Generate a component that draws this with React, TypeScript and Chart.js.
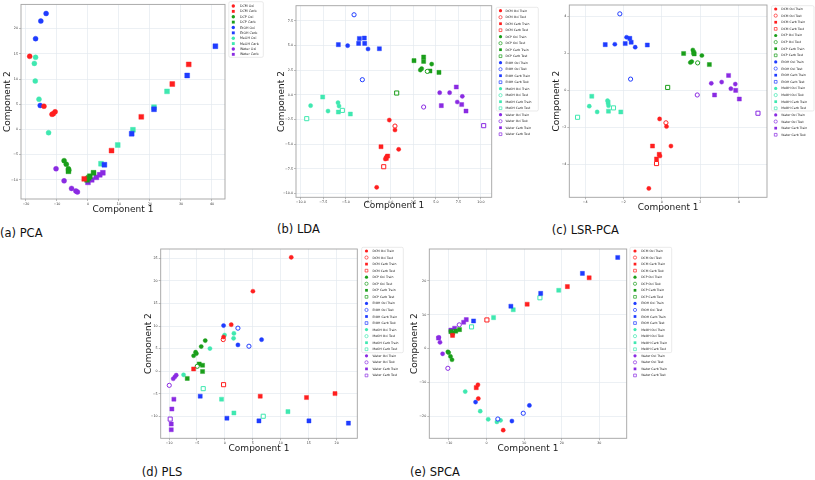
import React, { useEffect, useRef } from 'react';
import { Chart, registerables } from 'chart.js';
Chart.register(...registerables);

const FONT = '"DejaVu Sans", sans-serif';
const RED = '#ff1f1f';
const GREEN = '#1a9e1a';
const BLUE = '#1f3cff';
const AQUA = '#3fe8b0';
const PURPLE = '#8a2be2';

// ---------- (a) PCA ----------
const pcaDcmOxi = [[-18.8, 14.5], [-14.2, 4.6], [-10.6, 3.5], [-11.2, 3.1], [-11.6, 3.0]];
const pcaDcmCarb = [[32.5, 12.9], [27.2, 9.0], [17.2, 2.5], [7.6, -4.2], [-1.2, -9.8]];
const pcaDcpOxi = [[-7.7, -6.2], [-7.0, -6.9], [-6.3, -7.8], [-6.2, -8.1], [-0.4, -9.8]];
const pcaDcpCarb = [[0.6, -9.3], [1.8, -8.6], [-0.3, -10.0], [-6.3, -8.3], [0.2, -9.6]];
const pcaEtohOxi = [[-13.5, 23.0], [-15.2, 21.5], [-16.9, 18.0], [-15.4, 4.75]];
const pcaEtohCarb = [[41.1, 16.5], [32.0, 10.7], [21.3, 4.0], [14.1, -0.85], [5.3, -7.0]];
const pcaMeohOxi = [[-16.9, 14.3], [-17.3, 13.1], [-17.0, 9.6], [-15.8, 6.0], [-12.7, -0.65]];
const pcaMeohCarb = [[25.5, 7.55], [21.3, 4.4], [14.5, -0.07], [9.6, -3.1], [4.2, -6.8]];
const pcaWaterOxi = [[-10.3, -7.8], [-7.7, -10.2], [-5.3, -11.7], [-3.9, -12.2], [-3.4, -12.4]];
const pcaWaterCarb = [[0.0, -10.5], [1.2, -10.0], [2.7, -9.5], [3.8, -9.0], [4.8, -8.6]];
const pcaXTicks = [-20, -10, 0, 10, 20, 30, 40];
const pcaYTicks = [-10, -5, 0, 5, 10, 15, 20];

// ---------- (b) LDA ----------
const ldaDcmOxiTrain = [[-0.17, -2.57], [0.46, -3.58], [0.87, -5.54], [-0.46, -6.28], [-0.61, -6.52], [-1.57, -9.39]];
const ldaDcmOxiTest = [[0.46, -3.18]];
const ldaDcmCarbTrain = [[-1.09, -5.27], [-0.35, -6.22], [-0.5, -6.45]];
const ldaDcmCarbTest = [[-0.79, -7.3]];
const ldaDcpOxiTrain = [[3.27, 2.5], [3.42, 2.64], [4.53, 3.1]];
const ldaDcpOxiTest = [[4.05, 2.36]];
const ldaDcpCarbTrain = [[2.57, 3.45], [3.64, 3.82], [3.64, 3.38], [4.34, 2.4], [5.34, 2.26]];
const ldaDcpCarbTest = [[0.65, 0.17]];
const ldaEtohOxiTrain = [[-4.79, 4.97], [-2.53, 4.63]];
const ldaEtohOxiTest = [[-4.08, 8.1], [-3.16, 1.52]];
const ldaEtohCarbTrain = [[-5.82, 5.07], [-3.57, 5.2], [-3.49, 5.7], [-2.94, 5.74], [-2.9, 5.2], [-1.27, 4.66]];
const ldaEtohCarbTest: number[][] = [];
const ldaMeohOxiTrain = [[-8.9, -1.11], [-6.97, -1.66], [-5.86, -0.81], [-5.75, -1.15]];
const ldaMeohOxiTest: number[][] = [];
const ldaMeohCarbTrain = [[-7.56, -0.24], [-5.82, -1.76], [-4.49, -1.96]];
const ldaMeohCarbTest = [[-9.33, -2.43], [-5.38, -1.59]];
const ldaWaterOxiTrain = [[5.42, 0.2], [6.52, 0.2], [7.93, -0.17], [7.37, -0.74]];
const ldaWaterOxiTest = [[3.64, -1.25]];
const ldaWaterCarbTrain = [[7.26, 0.78], [5.6, -1.11], [7.86, -1.0], [8.34, -1.66]];
const ldaWaterCarbTest = [[10.3, -3.14]];
const ldaXTicks = [-10, -7.5, -5, -2.5, 0, 2.5, 5, 7.5, 10];
const ldaYTicks = [-10, -7.5, -5, -2.5, 0, 2.5, 5, 7.5];

// ---------- (c) LSR-PCA ----------
const lsrDcmOxiTrain = [[-0.12, -1.55], [0.24, -1.96], [0.47, -3.02], [-0.1, -3.56], [-0.68, -5.32]];
const lsrDcmOxiTest = [[0.21, -1.76]];
const lsrDcmCarbTrain = [[-0.49, -3.02], [-0.14, -3.47], [-0.28, -3.72]];
const lsrDcmCarbTest = [[-0.28, -3.97]];
const lsrDcpOxiTrain = [[1.61, 2.19], [1.48, 1.51], [1.55, 1.56], [2.08, 1.89]];
const lsrDcpOxiTest = [[1.86, 1.49]];
const lsrDcpCarbTrain = [[1.13, 2.0], [1.65, 2.05], [1.68, 1.98], [2.47, 1.4]];
const lsrDcpCarbTest = [[0.3, 0.16]];
const lsrEtohOxiTrain = [[-1.84, 2.88], [-2.45, 2.5], [-1.39, 2.34]];
const lsrEtohOxiTest = [[-2.19, 4.15], [-1.63, 0.61]];
const lsrEtohCarbTrain = [[-2.95, 2.48], [-1.91, 2.54], [-1.67, 2.82], [-1.6, 2.61], [-0.76, 2.46]];
const lsrEtohCarbTest: number[][] = [];
const lsrMeohOxiTrain = [[-3.78, -0.86], [-3.37, -1.17], [-2.83, -0.56], [-2.78, -0.83]];
const lsrMeohOxiTest: number[][] = [];
const lsrMeohCarbTrain = [[-3.65, -0.32], [-2.78, -1.13], [-2.14, -1.17], [-2.8, -0.65]];
const lsrMeohCarbTest = [[-4.39, -1.46], [-2.52, -0.95]];
const lsrWaterOxiTrain = [[2.57, 0.38], [3.11, 0.45], [3.82, 0.34], [3.59, 0.09]];
const lsrWaterOxiTest = [[1.84, -0.25]];
const lsrWaterCarbTrain = [[3.47, 0.81], [2.74, -0.25], [3.84, 0.0], [4.03, -0.47]];
const lsrWaterCarbTest = [[5.0, -1.24]];
const lsrXTicks = [-4, -2, 0, 2, 4];
const lsrYTicks = [-4, -2, 0, 2, 4];

// ---------- (d) PLS ----------
const plsDcmOxiTrain = [[11.87, 25.2], [5.01, 17.7], [1.13, 10.3], [-0.24, 7.57]];
const plsDcmOxiTest = [[-0.3, 7.0]];
const plsDcmCarbTrain = [[-5.6, 0.5], [6.32, -5.53], [14.6, -5.82], [19.7, -4.95]];
const plsDcmCarbTest = [[-0.24, -2.98]];
const plsDcpOxiTrain = [[-3.52, 6.77], [-4.24, 5.46], [-5.25, 4.22], [-5.6, 3.42], [-5.1, 3.9]];
const plsDcpOxiTest = [[-4.95, 1.09]];
const plsDcpCarbTrain = [[-4.6, 1.6], [-4.0, 1.31], [-4.0, -0.07], [-6.74, -1.6]];
const plsDcpCarbTest: number[][] = [];
const plsEtohOxiTrain = [[-0.24, 10.1], [2.33, 5.82], [6.56, 6.99]];
const plsEtohOxiTest = [[2.33, 9.53], [4.3, 5.53]];
const plsEtohCarbTrain = [[-4.42, -5.53], [0.36, -10.4], [6.09, -11.0], [15.04, -11.0], [22.1, -11.5]];
const plsEtohCarbTest: number[][] = [];
const plsMeohOxiTrain = [[1.61, 8.37], [1.55, 7.28], [-0.06, 8.0], [-2.68, 5.02], [-7.4, -0.8]];
const plsMeohOxiTest: number[][] = [];
const plsMeohCarbTrain = [[-0.6, -6.19], [1.61, -9.24], [11.28, -8.95]];
const plsMeohCarbTest = [[-3.88, -3.86], [6.86, -9.97]];
const plsWaterOxiTrain = [[-8.71, -0.87], [-8.95, -1.25], [-9.25, -1.67]];
const plsWaterOxiTest = [[-9.96, -3.13]];
const plsWaterCarbTrain = [[-9.13, -6.19], [-9.49, -8.37], [-9.6, -11.7], [-9.6, -12.95]];
const plsWaterCarbTest = [[-9.79, -10.6]];
const plsXTicks = [-10, -5, 0, 5, 10, 15, 20];
const plsYTicks = [-10, -5, 0, 5, 10, 15, 20, 25];

// ---------- (e) SPCA ----------
const spcaDcmOxiTrain = [[-2.2, -14.76], [4.43, -24.1], [-2.3, -10.7]];
const spcaDcmOxiTest: number[][] = [];
const spcaDcmCarbTrain = [[10.8, 13.1], [21.5, 18.3], [27.3, 20.9], [-9.05, 3.9], [-2.75, -11.55]];
const spcaDcmCarbTest = [[0.09, 8.45]];
const spcaDcpOxiTrain = [[-10.3, -0.97], [-9.6, -2.33], [-9.2, -3.3], [-10.1, -1.2]];
const spcaDcpOxiTest: number[][] = [];
const spcaDcpCarbTrain = [[-9.05, 4.56], [-8.2, 5.15], [-7.2, 5.6], [-9.5, 5.0]];
const spcaDcpCarbTest: number[][] = [];
const spcaEtohOxiTrain = [[-2.93, -15.8], [6.74, -21.4], [11.4, -16.8]];
const spcaEtohOxiTest = [[3.0, -20.8], [9.76, -19.1]];
const spcaEtohCarbTrain = [[-3.46, 8.16], [6.47, 12.5], [14.4, 16.3], [25.5, 22.2], [34.9, 26.9]];
const spcaEtohCarbTest: number[][] = [];
const spcaMeohOxiTrain = [[-5.68, -12.7], [-1.69, -18.5], [0.44, -20.9], [2.75, -21.65], [3.72, -21.2]];
const spcaMeohOxiTest: number[][] = [];
const spcaMeohCarbTrain = [[1.86, 9.13], [7.1, 11.46], [19.2, 17.2]];
const spcaMeohCarbTest = [[-4.0, 6.4], [14.2, 15.0]];
const spcaWaterOxiTrain = [[-12.7, 3.3], [-12.4, 1.84], [-11.7, -1.55]];
const spcaWaterOxiTest = [[-10.3, -5.83], [-7.27, 7.0]];
const spcaWaterCarbTrain = [[-9.5, 5.44], [-8.5, 6.0], [-6.1, 7.77], [-5.4, 8.54], [-12.8, 3.1]];
const spcaWaterCarbTest: number[][] = [];
const spcaXTicks = [-10, 0, 10, 20, 30];
const spcaYTicks = [-20, -10, 0, 10, 20];

// ---------- helpers ----------
type Series = { label: string; color: string; shape: string; open: boolean; data: number[][] };

const COMPOUNDS = ['DCM', 'DCP', 'EtOH', 'MeOH', 'Water'];
const COLORS = [RED, GREEN, BLUE, AQUA, PURPLE];

function pcaSeries(): Series[] {
  const arrs = [
    [pcaDcmOxi, pcaDcmCarb], [pcaDcpOxi, pcaDcpCarb], [pcaEtohOxi, pcaEtohCarb],
    [pcaMeohOxi, pcaMeohCarb], [pcaWaterOxi, pcaWaterCarb],
  ];
  const out: Series[] = [];
  COMPOUNDS.forEach((c, i) => {
    out.push({ label: `${c} Oxi`, color: COLORS[i], shape: 'circle', open: false, data: arrs[i][0] });
    out.push({ label: `${c} Carb`, color: COLORS[i], shape: 'rect', open: false, data: arrs[i][1] });
  });
  return out;
}

function ttSeries(arrs: number[][][]): Series[] {
  const kinds = [
    ['Oxi Train', 'circle', false], ['Oxi Test', 'circle', true],
    ['Carb Train', 'rect', false], ['Carb Test', 'rect', true],
  ];
  const out: Series[] = [];
  COMPOUNDS.forEach((c, i) => {
    kinds.forEach((k, j) => {
      out.push({ label: `${c} ${k[0]}`, color: COLORS[i], shape: k[1] as string, open: k[2] as boolean, data: arrs[i * 4 + j] });
    });
  });
  return out;
}

const minus = (s: string) => s.replace('-', '\u2212');
const fmtInt = (v: number) => minus(String(v));
const fmt1 = (v: number) => minus(v.toFixed(1));

const legendPlugin = {
  id: 'frameLegend',
  afterDraw(chart: any, _args: any, opts: any) {
    const { ctx, chartArea: a } = chart;
    ctx.save();
    ctx.strokeStyle = '#a3a3a3';
    ctx.lineWidth = 0.9;
    ctx.strokeRect(a.left, a.top, a.right - a.left, a.bottom - a.top);
    const [bx0, by0, bx1, by1] = opts.box;
    ctx.beginPath();
    if (ctx.roundRect) ctx.roundRect(bx0, by0, bx1 - bx0, by1 - by0, 1.5);
    else ctx.rect(bx0, by0, bx1 - bx0, by1 - by0);
    ctx.fillStyle = 'rgba(255,255,255,0.9)';
    ctx.fill();
    ctx.strokeStyle = '#dcdcdc';
    ctx.lineWidth = 0.6;
    ctx.stroke();
    ctx.font = `${opts.fontSize}px ${FONT}`;
    ctx.textBaseline = 'middle';
    chart.data.datasets.forEach((ds: any, i: number) => {
      const y = opts.firstY + i * opts.step;
      const x = opts.markerX;
      ctx.beginPath();
      if (ds.pointStyle === 'rect') {
        const s = opts.markerR * 0.85;
        ctx.rect(x - s, y - s, 2 * s, 2 * s);
      } else {
        ctx.arc(x, y, opts.markerR, 0, Math.PI * 2);
      }
      if (ds.isOpen) {
        ctx.fillStyle = '#ffffff';
        ctx.fill();
        ctx.strokeStyle = ds.borderColor;
        ctx.lineWidth = 0.7;
        ctx.stroke();
      } else {
        ctx.fillStyle = ds.backgroundColor;
        ctx.fill();
      }
      ctx.fillStyle = '#222';
      ctx.fillText(ds.label, opts.textX, y + 0.2);
    });
    ctx.restore();
  },
};

type PanelCfg = {
  canvas: number[]; plot: number[];
  xMin: number; xMax: number; yMin: number; yMax: number;
  xTicks: number[]; yTicks: number[]; fmt: (v: number) => string;
  yTitleX: number; xTitleY: number;
  legend: { box: number[]; markerX: number; textX: number; firstY: number; step: number; fontSize: number; markerR: number };
  r: number; series: Series[];
};

function Panel({ cfg }: { cfg: PanelCfg }) {
  const ref = useRef<HTMLCanvasElement>(null);
  useEffect(() => {
    const [cx, cy, cw, ch] = cfg.canvas;
    const [L, T, R, B] = cfg.plot;
    const yw = L - cx;
    const padTop = T - cy;
    const padRight = cx + cw - R;
    const xh = cy + ch - B;
    const titleHalf = 9 * 1.2 / 2;
    const pb = cy + ch - cfg.xTitleY - titleHalf;
    const pt = cfg.yTitleX - cx - titleHalf;
    const lg = cfg.legend;
    const tickFont = { size: 3.3, family: FONT };
    const grid = { color: '#e4e9ef', lineWidth: 0.7, tickLength: 2, tickColor: '#777', tickWidth: 0.5 };
    const chart = new Chart(ref.current!, {
      type: 'scatter',
      data: {
        datasets: cfg.series.map((s) => ({
          label: s.label,
          data: s.data.map(([x, y]) => ({ x, y })),
          pointStyle: s.shape,
          pointRadius: s.shape === 'rect' ? cfg.r * 1.38 : cfg.r,
          backgroundColor: s.open ? '#ffffff' : s.color,
          borderColor: s.color,
          borderWidth: s.open ? 1 : 0.4,
          isOpen: s.open,
        })) as any,
      },
      options: {
        animation: false,
        responsive: false,
        devicePixelRatio: 1,
        events: [],
        layout: { padding: { left: 0, top: padTop, right: padRight, bottom: 0 } },
        plugins: {
          legend: { display: false },
          tooltip: { enabled: false },
          frameLegend: {
            box: [lg.box[0] - cx, lg.box[1] - cy, lg.box[2] - cx, lg.box[3] - cy],
            markerX: lg.markerX - cx, textX: lg.textX - cx,
            firstY: lg.firstY - cy, step: lg.step, fontSize: lg.fontSize, markerR: lg.markerR,
          },
        } as any,
        scales: {
          x: {
            type: 'linear', min: cfg.xMin, max: cfg.xMax,
            afterBuildTicks: (s: any) => { s.ticks = cfg.xTicks.map((v) => ({ value: v })); },
            afterFit: (s: any) => { s.height = xh; s.paddingLeft = 0; s.paddingRight = 0; },
            ticks: { font: tickFont, color: '#333', padding: 1, maxRotation: 0, autoSkip: false, callback: (v: any) => cfg.fmt(Number(v)) },
            grid, border: { display: false },
            title: { display: true, text: 'Component 1', color: '#1a1a1a', font: { size: 9, family: FONT }, padding: { top: 0, bottom: pb } },
          },
          y: {
            type: 'linear', min: cfg.yMin, max: cfg.yMax,
            afterBuildTicks: (s: any) => { s.ticks = cfg.yTicks.map((v) => ({ value: v })); },
            afterFit: (s: any) => { s.width = yw; s.paddingTop = 0; s.paddingBottom = 0; },
            ticks: { font: tickFont, color: '#333', padding: 1, autoSkip: false, callback: (v: any) => cfg.fmt(Number(v)) },
            grid, border: { display: false },
            title: { display: true, text: 'Component 2', color: '#1a1a1a', font: { size: 9, family: FONT }, padding: { top: pt, bottom: 0 } },
          },
        },
      } as any,
      plugins: [legendPlugin as any],
    });
    return () => chart.destroy();
  }, [cfg]);
  const [cx, cy, cw, ch] = cfg.canvas;
  return (
    <canvas ref={ref} width={cw} height={ch}
      style={{ position: 'absolute', left: cx, top: cy, width: cw, height: ch }} />
  );
}

const PANELS: PanelCfg[] = [
  {
    canvas: [0, 0, 266, 218], plot: [21, 1, 225, 199],
    xMin: -21.6, xMax: 44.2, yMin: -13.8, yMax: 24.8, xTicks: pcaXTicks, yTicks: pcaYTicks, fmt: fmtInt,
    yTitleX: 7.3, xTitleY: 210,
    legend: { box: [228.8, 1.7, 263.3, 57.3], markerX: 233.3, textX: 240, firstY: 6, step: 5.37, fontSize: 3.3, markerR: 1.7 },
    r: 2.5, series: pcaSeries(),
  },
  {
    canvas: [270, 0, 270, 216], plot: [296, 5.7, 491.7, 197.3],
    xMin: -10.52, xMax: 11.19, yMin: -10.4, yMax: 9.02, xTicks: ldaXTicks, yTicks: ldaYTicks, fmt: fmt1,
    yTitleX: 281.5, xTitleY: 205.7,
    legend: { box: [496.2, 7.3, 538.3, 111], markerX: 500.5, textX: 505.5, firstY: 10.7, step: 6.5, fontSize: 3.1, markerR: 1.6 },
    r: 2.1,
    series: ttSeries([
      ldaDcmOxiTrain, ldaDcmOxiTest, ldaDcmCarbTrain, ldaDcmCarbTest,
      ldaDcpOxiTrain, ldaDcpOxiTest, ldaDcpCarbTrain, ldaDcpCarbTest,
      ldaEtohOxiTrain, ldaEtohOxiTest, ldaEtohCarbTrain, ldaEtohCarbTest,
      ldaMeohOxiTrain, ldaMeohOxiTest, ldaMeohCarbTrain, ldaMeohCarbTest,
      ldaWaterOxiTrain, ldaWaterOxiTest, ldaWaterCarbTrain, ldaWaterCarbTest,
    ]),
  },
  {
    canvas: [540, 0, 275, 216], plot: [569.3, 4, 767, 197.3],
    xMin: -4.82, xMax: 5.47, yMin: -5.8, yMax: 4.63, xTicks: lsrXTicks, yTicks: lsrYTicks, fmt: fmtInt,
    yTitleX: 556.7, xTitleY: 207.3,
    legend: { box: [771.5, 5.7, 814, 111], markerX: 775.7, textX: 781.3, firstY: 9, step: 6.62, fontSize: 3.1, markerR: 1.6 },
    r: 2.1,
    series: ttSeries([
      lsrDcmOxiTrain, lsrDcmOxiTest, lsrDcmCarbTrain, lsrDcmCarbTest,
      lsrDcpOxiTrain, lsrDcpOxiTest, lsrDcpCarbTrain, lsrDcpCarbTest,
      lsrEtohOxiTrain, lsrEtohOxiTest, lsrEtohCarbTrain, lsrEtohCarbTest,
      lsrMeohOxiTrain, lsrMeohOxiTest, lsrMeohCarbTrain, lsrMeohCarbTest,
      lsrWaterOxiTrain, lsrWaterOxiTest, lsrWaterCarbTrain, lsrWaterCarbTest,
    ]),
  },
  {
    canvas: [138, 244, 268, 216], plot: [160.7, 246.3, 357.3, 438.3],
    xMin: -11.49, xMax: 23.69, yMin: -14.85, yMax: 27.05, xTicks: plsXTicks, yTicks: plsYTicks, fmt: fmtInt,
    yTitleX: 148.3, xTitleY: 448.3,
    legend: { box: [361.7, 247.3, 403.3, 352.7], markerX: 366.5, textX: 372.5, firstY: 251, step: 6.55, fontSize: 3.1, markerR: 1.6 },
    r: 2.1,
    series: ttSeries([
      plsDcmOxiTrain, plsDcmOxiTest, plsDcmCarbTrain, plsDcmCarbTest,
      plsDcpOxiTrain, plsDcpOxiTest, plsDcpCarbTrain, plsDcpCarbTest,
      plsEtohOxiTrain, plsEtohOxiTest, plsEtohCarbTrain, plsEtohCarbTest,
      plsMeohOxiTrain, plsMeohOxiTest, plsMeohCarbTrain, plsMeohCarbTest,
      plsWaterOxiTrain, plsWaterOxiTest, plsWaterCarbTrain, plsWaterCarbTest,
    ]),
  },
  {
    canvas: [408, 244, 267, 216], plot: [429.3, 246.3, 626.7, 438.3],
    xMin: -15.24, xMax: 37.29, yMin: -26.5, yMax: 29.4, xTicks: spcaXTicks, yTicks: spcaYTicks, fmt: fmtInt,
    yTitleX: 415, xTitleY: 448.3,
    legend: { box: [630, 247.3, 671.7, 352.7], markerX: 635, textX: 641.2, firstY: 251, step: 6.55, fontSize: 3.1, markerR: 1.6 },
    r: 2.1,
    series: ttSeries([
      spcaDcmOxiTrain, spcaDcmOxiTest, spcaDcmCarbTrain, spcaDcmCarbTest,
      spcaDcpOxiTrain, spcaDcpOxiTest, spcaDcpCarbTrain, spcaDcpCarbTest,
      spcaEtohOxiTrain, spcaEtohOxiTest, spcaEtohCarbTrain, spcaEtohCarbTest,
      spcaMeohOxiTrain, spcaMeohOxiTest, spcaMeohCarbTrain, spcaMeohCarbTest,
      spcaWaterOxiTrain, spcaWaterOxiTest, spcaWaterCarbTrain, spcaWaterCarbTest,
    ]),
  },
];

const CAPTIONS = [
  { text: '(a) PCA', x: 0, y: 233.3 },
  { text: '(b) LDA', x: 277, y: 229.3 },
  { text: '(c) LSR-PCA', x: 551.7, y: 230 },
  { text: '(d) PLS', x: 141.7, y: 471.7 },
  { text: '(e) SPCA', x: 410, y: 471.7 },
];

export default function App() {
  return (
    <div style={{ position: 'absolute', left: 0, top: 0, width: 815, height: 480, background: '#fff', overflow: 'hidden' }}>
      {PANELS.map((p, i) => <Panel key={i} cfg={p} />)}
      {CAPTIONS.map((c, i) => (
        <div key={i} style={{ position: 'absolute', left: c.x, top: c.y - 7, height: 14, lineHeight: '14px', fontFamily: FONT, fontSize: 11.5, color: '#111', whiteSpace: 'nowrap' }}>
          {c.text}
        </div>
      ))}
    </div>
  );
}
